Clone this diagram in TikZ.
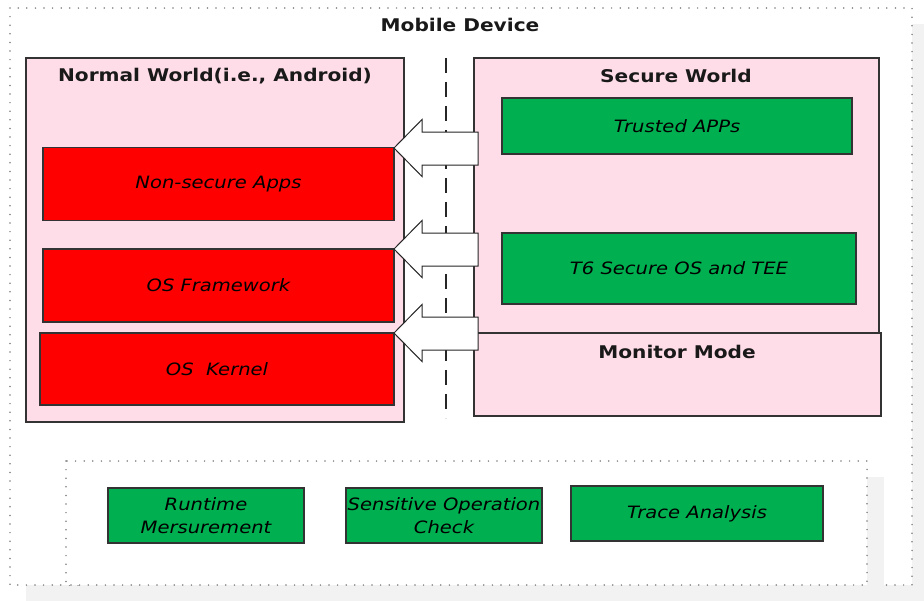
\documentclass[tikz,border=0pt]{standalone}
\usepackage{fontspec}
\setmainfont[FakeStretch=1.15]{DejaVu Sans}
\begin{document}
\begin{tikzpicture}[x=1pt,y=-1pt,
  every node/.style={inner sep=0pt,outer sep=0pt},
  world/.style={draw=black!80,line width=1.2pt,fill=pinkfill},
  redbox/.style={draw=black!80,line width=1.2pt,fill=red,font=\fontsize{17}{23.5}\selectfont\itshape},
  greenbox/.style={draw=black!80,line width=1.2pt,fill=greenfill,font=\fontsize{17}{23.5}\selectfont\itshape,align=center},
  title/.style={font=\fontsize{17.5}{21}\selectfont\bfseries,text=black!90},
  dotbox/.style={draw=black!50,line width=1.7pt,line cap=round,dash pattern=on 0pt off 8.6pt},
  shadowbox/.style={fill=black!5,draw=none},
  blockarrow/.style={draw=black!85,line width=1pt,fill=white,line join=miter},
]
\definecolor{pinkfill}{RGB}{255,221,232}
\definecolor{greenfill}{RGB}{0,176,80}
\useasboundingbox (0,0) rectangle (924,600);

% shadows and containers
\fill[shadowbox] (26,24) rectangle (928,601);
\fill[white] (10,8) rectangle (912,585);
\draw[dotbox] (10,8) rectangle (912,585);
\fill[shadowbox] (82,477) rectangle (884,601);
\fill[white] (66,461) rectangle (867,585);
\draw[dotbox] (66,461) rectangle (867,585);

\node[title] (device) at (460,25) {Mobile Device};

% normal world
\draw[world] (26,58) rectangle (404,422);
\node[title] (nwt) at (215,76) {Normal World(i.e., Android)};
\node[redbox,minimum width=351pt,minimum height=73pt] (apps) at (218.5,184) {Non-secure Apps};
\node[redbox,minimum width=351pt,minimum height=73pt] (fw) at (218.5,285.5) {OS Framework};
\node[redbox,minimum width=354pt,minimum height=72pt] (kern) at (217,369) {OS\ \ Kernel};

% secure world
\draw[world] (474,58) rectangle (879,333);
\node[title] (swt) at (676,76) {Secure World};
\node[greenbox,minimum width=350pt,minimum height=56pt] (ta) at (677,126) {Trusted APPs};
\node[greenbox,minimum width=354pt,minimum height=71pt] (tee) at (679,268.5) {T6 Secure OS and TEE};
\draw[world] (474,333) rectangle (881,416);
\node[title] (mon) at (677,352) {Monitor Mode};

% world separator
\draw[line width=2pt,black!85,dash pattern=on 15pt off 9pt] (446,58) -- (446,418);

% world switch arrows
\foreach \t in {148,249,333}{
  \draw[blockarrow] (394,\t) -- (422,\t-28.5) -- (422,\t-16) -- (478,\t-16)
    -- (478,\t+17) -- (422,\t+17) -- (422,\t+28.5) -- cycle;
}

% monitoring modules
\node[greenbox,minimum width=196pt,minimum height=55pt] (rt) at (206,515.5) {Runtime\\Mersurement};
\node[greenbox,minimum width=196pt,minimum height=55pt] (soc) at (444,515.5) {Sensitive Operation\\Check};
\node[greenbox,minimum width=252pt,minimum height=55pt] (tr) at (697,513.5) {Trace Analysis};
\end{tikzpicture}
\end{document}
